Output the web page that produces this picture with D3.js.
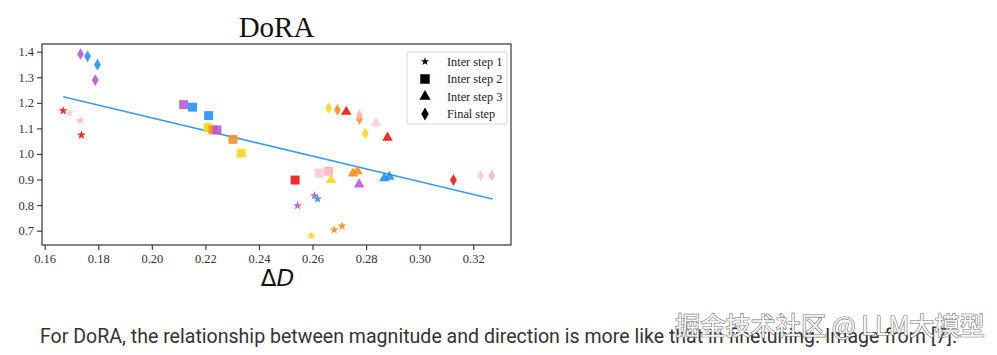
<!DOCTYPE html>
<html>
<head>
<meta charset="utf-8">
<script src="https://cdn.jsdelivr.net/npm/d3@7"></script>
<style>
  html, body { margin: 0; padding: 0; background: #fff; }
  svg { display: block; }
</style>
</head>
<body>
<svg id="chart" width="997" height="355"></svg>
<script>
// ---------- data ----------
const xTicks = [0.16, 0.18, 0.20, 0.22, 0.24, 0.26, 0.28, 0.30, 0.32];
const yTicks = [0.7, 0.8, 0.9, 1.0, 1.1, 1.2, 1.3, 1.4];
const stepNames = ["Inter step 1", "Inter step 2", "Inter step 3", "Final step"];

// Inter step 1 (stars)
const step1X = [0.1669, 0.1693, 0.1733, 0.1737, 0.2544, 0.2607, 0.2619, 0.2595, 0.2681, 0.2710];
const step1Y = [1.169, 1.161, 1.130, 1.074, 0.798, 0.837, 0.824, 0.680, 0.703, 0.718];
const step1C = ["red", "lightpink", "pink", "red", "purple", "purple", "blue", "yellow", "orange", "orange"];

// Inter step 2 (squares)
const step2X = [0.2119, 0.2152, 0.2212, 0.2210, 0.2228, 0.2243, 0.2303, 0.2334, 0.2535, 0.2625, 0.2660];
const step2Y = [1.193, 1.183, 1.150, 1.103, 1.094, 1.094, 1.057, 1.003, 0.898, 0.925, 0.933];
const step2C = ["purple", "blue", "blue", "yellow", "orange", "purple", "orange", "yellow", "red", "lightpink", "pink"];

// Inter step 3 (triangles)
const step3X = [0.2726, 0.2837, 0.2880, 0.2669, 0.2751, 0.2768, 0.2774, 0.2868, 0.2887];
const step3Y = [1.165, 1.120, 1.064, 0.898, 0.924, 0.933, 0.881, 0.905, 0.911];
const step3C = ["red", "lightpink", "red", "yellow", "orange", "orange", "purple", "blue", "blue"];

// Final step (diamonds)
const step4X = [0.1734, 0.1760, 0.1797, 0.1789, 0.2660, 0.2693, 0.2775, 0.2775, 0.2797, 0.3126, 0.3228, 0.3269];
const step4Y = [1.390, 1.382, 1.349, 1.289, 1.179, 1.172, 1.137, 1.152, 1.081, 0.898, 0.915, 0.915];
const step4C = ["purple", "blue", "blue", "purple", "yellow", "orange", "orange", "pink", "yellow", "red", "lightpink", "pink"];

// fitted trend line (end points)
const fitX = [0.1669, 0.3272];
const fitY = [1.224, 0.824];

const palette = {
  red: "#f20d0d", lightpink: "#ffc8d0", pink: "#ffb3c0", orange: "#ff8c1a",
  yellow: "#ffd21a", blue: "#1e8fff", purple: "#b455d6"
};

// ---------- layout ----------
const svg = d3.select("#chart");
const L = 42, R = 511, T = 44, B = 245;
const x = d3.scaleLinear().domain([0.159, 0.3341]).range([L, R]);
const y = d3.scaleLinear().domain([0.644, 1.43]).range([B, T]);
const serif = "'Liberation Serif', 'Times New Roman', serif";

// title
svg.append("text").attr("x", (L + R) / 2).attr("y", 37)
  .attr("text-anchor", "middle")
  .style("font-family", serif)
  .style("font-size", "29px").attr("fill", "#111").text("DoRA");

// axes
const gx = svg.append("g").attr("transform", `translate(0,${B})`)
  .call(d3.axisBottom(x).tickValues(xTicks).tickFormat(d3.format(".2f")).tickSize(5).tickSizeOuter(0));
const gy = svg.append("g").attr("transform", `translate(${L},0)`)
  .call(d3.axisLeft(y).tickValues(yTicks).tickFormat(d3.format(".1f")).tickSize(5).tickSizeOuter(0));
[gx, gy].forEach(g => {
  g.attr("font-family", null).attr("font-size", null);
  g.select(".domain").remove();
  g.selectAll(".tick line").attr("stroke", "#333").attr("stroke-width", 1.1);
  g.selectAll(".tick text").style("font-family", serif).style("font-size", "12.5px").attr("fill", "#333");
});
gx.selectAll(".tick text").attr("dy", null).attr("y", 18);
gy.selectAll(".tick text").attr("x", -8);

// frame
svg.append("rect").attr("x", L).attr("y", T).attr("width", R - L).attr("height", B - T)
  .attr("fill", "none").attr("stroke", "#333").attr("stroke-width", 1.2);

// fitted line
svg.append("line")
  .attr("x1", x(fitX[0])).attr("y1", y(fitY[0]))
  .attr("x2", x(fitX[1])).attr("y2", y(fitY[1]))
  .attr("stroke", "#3c9cf5").attr("stroke-width", 1.6);

// markers
const symbols = [
  d3.symbol().type(d3.symbolStar).size(26),
  d3.symbol().type(d3.symbolSquare).size(80),
  d3.symbol().type(d3.symbolTriangle).size(48),
  d3.symbol().type(d3.symbolDiamond).size(40)
];
const series = [
  [step1X, step1Y, step1C], [step2X, step2Y, step2C],
  [step3X, step3Y, step3C], [step4X, step4Y, step4C]
];
const pts = svg.append("g");
series.forEach(([xs, ys, cs], si) => {
  xs.forEach((v, i) => {
    pts.append("path").attr("d", symbols[si]())
      .attr("transform", `translate(${x(v)},${y(ys[i])})`)
      .attr("fill", palette[cs[i]]).attr("fill-opacity", 0.88);
  });
});

// legend
const lg = svg.append("g");
lg.append("rect").attr("x", 407).attr("y", 52).attr("width", 100).attr("height", 72)
  .attr("rx", 2).attr("fill", "#fff").attr("fill-opacity", 0.85)
  .attr("stroke", "#d8d8d8").attr("stroke-width", 1);
const legendSym = [
  d3.symbol().type(d3.symbolStar).size(22),
  d3.symbol().type(d3.symbolSquare).size(90),
  d3.symbol().type(d3.symbolTriangle).size(55),
  d3.symbol().type(d3.symbolDiamond).size(48)
];
stepNames.forEach((name, i) => {
  const yy = 61.5 + i * 17.5;
  lg.append("path").attr("d", legendSym[i]()).attr("transform", `translate(425,${yy})`).attr("fill", "#000");
  lg.append("text").attr("x", 447).attr("y", yy + 4.2)
    .style("font-family", serif).style("font-size", "12.3px").attr("fill", "#222").text(name);
});

// x-axis label  ΔD
const xl = svg.append("text").attr("x", (L + R) / 2 + 1).attr("y", 286)
  .attr("text-anchor", "middle")
  .style("font-family", "'DejaVu Sans', sans-serif").style("font-size", "23px").attr("fill", "#111");
xl.append("tspan").text("Δ");
xl.append("tspan").style("font-style", "italic").text("D");

// caption
const cap = svg.append("text").attr("x", 40).attr("y", 343)
  .style("font-family", "Roboto, 'Noto Sans', sans-serif").style("font-size", "16px").attr("fill", "#333")
  .text("For DoRA, the relationship between magnitude and direction is more like that in finetuning. Image from [7].");
const cw = cap.node().getComputedTextLength();
cap.style("font-size", (16 * 918 / cw) + "px");

// watermark
const wm = svg.append("text").attr("x", 675).attr("y", 335)
  .style("font-family", "'Noto Sans CJK SC', sans-serif").style("font-size", "24px")
  .attr("fill", "#fff").attr("stroke", "#777").attr("stroke-width", 1.2)
  .attr("paint-order", "stroke").attr("fill-opacity", 0.92)
  .text("掘金技术社区 @ LLM大模型");
const ww = wm.node().getComputedTextLength();
wm.style("font-size", (24 * 310 / ww) + "px");
</script>
</body>
</html>
